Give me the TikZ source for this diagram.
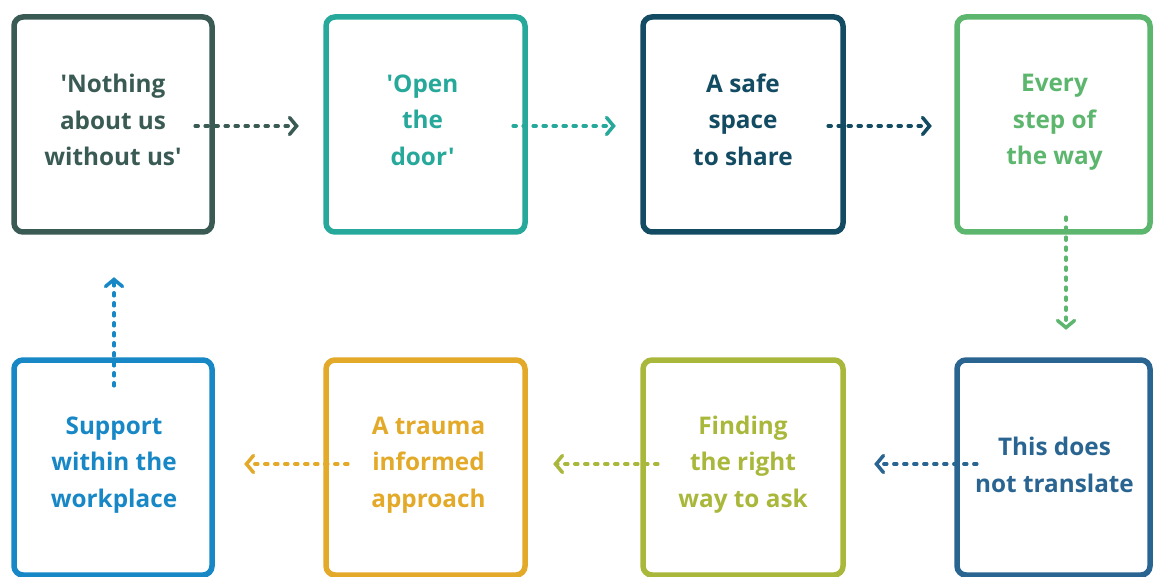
\documentclass[tikz,border=0pt]{standalone}
\usepackage{fontspec}
\newfontfamily\boxfont{Open Sans}
\usetikzlibrary{arrows.meta,calc}
\definecolor{cA}{HTML}{3A5A54}
\definecolor{cB}{HTML}{26A99A}
\definecolor{cC}{HTML}{124B62}
\definecolor{cD}{HTML}{5DB66E}
\definecolor{cE}{HTML}{2A6592}
\definecolor{cF}{HTML}{A9B83B}
\definecolor{cG}{HTML}{E3A928}
\definecolor{cH}{HTML}{1787C6}
\begin{document}
\begin{tikzpicture}[x=1pt,y=-1pt,
  box/.style={draw=#1, line width=5.5pt, rounded corners=9pt, inner sep=0pt, minimum height=215pt},
  lbl/.style={text=#1, inner sep=0pt, align=center, font=\boxfont\fontsize{24.3}{36.5}\selectfont\bfseries},
  conn/.style={draw=#1, line width=3.5pt, dash pattern=on 3pt off 7pt, line cap=round,
    -{Straight Barb[length=7pt,width=17pt,line cap=round]}}]
\useasboundingbox (0,0) rectangle (1153,577);
% box positions (invisible placeholders so arrows sit beneath the frames)
\path (113,124.5) node[minimum width=198pt, minimum height=215pt, inner sep=0pt] (b1) {}
      (425.5,124.5) node[minimum width=199pt, minimum height=215pt, inner sep=0pt] (b2) {}
      (743,124.5) node[minimum width=200pt, minimum height=215pt, inner sep=0pt] (b3) {}
      (1053.5,124.5) node[minimum width=193pt, minimum height=215pt, inner sep=0pt] (b4) {}
      (1053.5,467.5) node[minimum width=193pt, minimum height=215pt, inner sep=0pt] (b8) {}
      (743,467.5) node[minimum width=200pt, minimum height=215pt, inner sep=0pt] (b7) {}
      (425.5,467.5) node[minimum width=199pt, minimum height=215pt, inner sep=0pt] (b6) {}
      (113,467.5) node[minimum width=198pt, minimum height=215pt, inner sep=0pt] (b5) {};
\coordinate (s1) at ($(b1.east)+(-17,1.5)$);
\coordinate (t1) at ($(b2.west)+(-27,1.5)$);
\coordinate (s2) at ($(b2.east)+(-12,1.5)$);
\coordinate (t2) at ($(b3.west)+(-27,1.5)$);
\coordinate (s3) at ($(b3.east)+(-15,1.5)$);
\coordinate (t3) at ($(b4.west)+(-25,1.5)$);
\coordinate (s4) at ($(b4.south)+(12.5,-15)$);
\coordinate (t4) at ($(b8.north)+(12.5,-30)$);
\coordinate (s5) at ($(b8.west)+(20,-3.5)$);
\coordinate (t5) at ($(b7.east)+(31,-3.5)$);
\coordinate (s6) at ($(b7.west)+(15,-3.5)$);
\coordinate (t6) at ($(b6.east)+(28,-3.5)$);
\coordinate (s7) at ($(b6.west)+(22,-3.5)$);
\coordinate (t7) at ($(b5.east)+(32,-3.5)$);
\coordinate (s8) at ($(b5.north)+(1,26)$);
\coordinate (t8) at ($(b1.south)+(1,45)$);
\draw[conn=cA] (s1) -- (t1);
\draw[conn=cB] (s2) -- (t2);
\draw[conn=cC] (s3) -- (t3);
\draw[conn=cD] (s4) -- (t4);
\draw[conn=cE] (s5) -- (t5);
\draw[conn=cF] (s6) -- (t6);
\draw[conn=cG] (s7) -- (t7);
\draw[conn=cH] (s8) -- (t8);
% frames
\node[box=cA, minimum width=198pt] (f1) at (b1) {};
\node[box=cB, minimum width=199pt] (f2) at (b2) {};
\node[box=cC, minimum width=200pt] (f3) at (b3) {};
\node[box=cD, minimum width=193pt] (f4) at (b4) {};
\node[box=cE, minimum width=193pt] (f8) at (b8) {};
\node[box=cF, minimum width=200pt] (f7) at (b7) {};
\node[box=cG, minimum width=199pt] (f6) at (b6) {};
\node[box=cH, minimum width=198pt] (f5) at (b5) {};
% texts
\node[lbl=cA] (l1) at ($(b1)+(0,-4.5)$) {'Nothing\\about us\\without us'};
\node[lbl=cB] (l2) at ($(b2)+(-3,-4.5)$) {'Open\\the\\door'};
\node[lbl=cC] (l3) at ($(b3)+(0,-5)$) {A safe\\space\\to share};
\node[lbl=cD] (l4) at ($(b4)+(1,-2)$) {Every\\step of\\the way};
\node[lbl=cE] (l8) at ($(b8)+(1,-2.5)$) {This does\\not translate};
\node[lbl=cF] (l7) at ($(b7)+(0,-3)$) {Finding\\the right\\way to ask};
\node[lbl=cG] (l6) at ($(b6)+(3,-2.5)$) {A trauma\\informed\\approach};
\node[lbl=cH] (l5) at ($(b5)+(1,-2.5)$) {Support\\within the\\workplace};
\end{tikzpicture}
\end{document}
